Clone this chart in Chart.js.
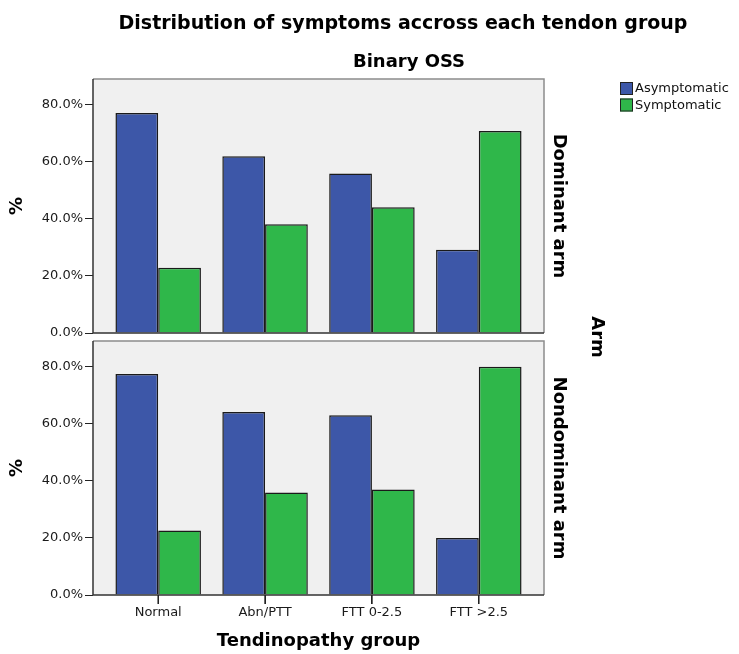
<!DOCTYPE html>
<html>
<head>
<meta charset="utf-8">
<title>Distribution of symptoms</title>
<script src="https://cdn.jsdelivr.net/npm/chart.js@4.4.1/dist/chart.umd.min.js"></script>
<style>
  html, body { margin: 0; padding: 0; background: #fff; }
  #wrap { position: relative; width: 739px; height: 654px; }
  #wrap canvas { position: absolute; left: 0; top: 0; }
</style>
</head>
<body>
<div id="wrap">
  <canvas id="topChart" width="739" height="654"></canvas>
  <canvas id="bottomChart" width="739" height="654"></canvas>
</div>
<script>
// Data (percent)
const categories = ['Normal', 'Abn/PTT', 'FTT 0-2.5', 'FTT >2.5'];
const seriesNames = ['Asymptomatic', 'Symptomatic'];
const dominantAsym = [77.1, 61.9, 55.9, 29.2];
const dominantSym = [22.9, 38.1, 44.1, 70.8];
const nondominantAsym = [77.4, 64.1, 63.0, 20.0];
const nondominantSym = [22.6, 35.9, 37.0, 80.0];
const yTicks = [0, 20, 40, 60, 80];
const yMax = 89;

const mainTitle = 'Distribution of symptoms accross each tendon group';
const subTitle = 'Binary OSS';
const panelTitle = 'Arm';
const colors = ['#3d57a8', '#2fb74a'];

Chart.defaults.font.family = '"DejaVu Sans", sans-serif';
Chart.defaults.color = '#1a1a1a';

const boldTitle = { family: '"DejaVu Sans", sans-serif', size: 18, weight: 'bold' };

// grey panel + frame (+ category tick marks under the bottom panel)
const panelFrame = {
    id: 'panelFrame',
    beforeDraw(chart) {
        const { ctx, chartArea: a } = chart;
        ctx.save();
        ctx.fillStyle = '#f0f0f0';
        ctx.fillRect(a.left, a.top, a.right - a.left, a.bottom - a.top);
        ctx.restore();
    },
    afterDatasetsDraw(chart) {
        const { ctx, chartArea: a } = chart;
        ctx.save();
        ctx.lineWidth = 1.5;
        ctx.strokeStyle = '#8c8c8c';
        ctx.beginPath();
        ctx.moveTo(a.left, a.top);
        ctx.lineTo(a.right, a.top);
        ctx.lineTo(a.right, a.bottom);
        ctx.stroke();
        ctx.strokeStyle = '#333';
        ctx.beginPath();
        ctx.moveTo(a.left, a.top);
        ctx.lineTo(a.left, a.bottom);
        ctx.lineTo(a.right, a.bottom);
        ctx.stroke();

        const xs = chart.scales.x;
        if (xs.options.display) {
            ctx.lineWidth = 1.5;
            ctx.strokeStyle = '#222';
            xs.ticks.forEach((t, i) => {
                const px = xs.getPixelForTick(i);
                ctx.beginPath();
                ctx.moveTo(px, a.bottom);
                ctx.lineTo(px, a.bottom + 9);
                ctx.stroke();
            });
        }
        ctx.restore();
    }
};

// titles, legend and the "Arm" label (drawn on the top chart only)
const extraText = {
    id: 'extraText',
    afterDraw(chart) {
        const ctx = chart.ctx;
        ctx.save();
        ctx.fillStyle = '#000';
        ctx.textAlign = 'center';
        ctx.textBaseline = 'middle';
        ctx.font = 'bold 19px "DejaVu Sans"';
        ctx.fillText(mainTitle, 403, 24);
        ctx.font = 'bold 18px "DejaVu Sans"';
        ctx.fillText(subTitle, 409, 62);

        ctx.save();
        ctx.translate(597, 337);
        ctx.rotate(Math.PI / 2);
        ctx.fillText(panelTitle, 0, 0);
        ctx.restore();

        // legend
        ctx.textAlign = 'left';
        ctx.font = '13px "DejaVu Sans"';
        chart.data.datasets.forEach((ds, i) => {
            const y = 82 + i * 16.5;
            ctx.fillStyle = ds.backgroundColor;
            ctx.fillRect(620, y, 13, 13);
            ctx.strokeStyle = '#222';
            ctx.lineWidth = 1;
            ctx.strokeRect(620.5, y + 0.5, 12, 12);
            ctx.fillStyle = '#111';
            ctx.fillText(ds.label, 635, y + 7);
        });
        ctx.restore();
    }
};

function makeDatasets(asym, sym) {
    return [asym, sym].map((values, s) => ({
        label: seriesNames[s],
        data: categories.map((c, i) => ({ x: i, y: values[i] })),
        backgroundColor: colors[s],
        borderColor: '#1a1a1a',
        borderWidth: 1.5,
        barPercentage: 1.0,
        categoryPercentage: 0.8
    }));
}

function makeOptions(sideLabel, showX, padding) {
    return {
        responsive: false,
        animation: false,
        layout: { padding: padding },
        plugins: {
            legend: { display: false },
            tooltip: { enabled: false }
        },
        scales: {
            x: {
                type: 'linear',
                min: -0.61,
                max: 3.61,
                offset: false,
                display: showX,
                afterBuildTicks: (scale) => {
                    scale.ticks = categories.map((c, i) => ({ value: i }));
                },
                afterFit: (scale) => { if (showX) scale.height = 59; },
                ticks: {
                    autoSkip: false,
                    maxRotation: 0,
                    padding: 1,
                    font: { size: 13 },
                    callback: (v) => categories[v]
                },
                grid: { offset: false, drawOnChartArea: false, tickLength: 9, color: '#222' },
                border: { display: false },
                title: {
                    display: true,
                    text: 'Tendinopathy group',
                    color: '#000',
                    font: boldTitle,
                    padding: { top: 4, bottom: 2 }
                }
            },
            y: {
                min: 0,
                max: yMax,
                afterBuildTicks: (scale) => {
                    scale.ticks = yTicks.map(v => ({ value: v }));
                },
                afterFit: (scale) => { scale.width = 93; },
                ticks: {
                    padding: 2,
                    font: { size: 13 },
                    callback: (v) => v.toFixed(1) + '%'
                },
                grid: { drawOnChartArea: false, tickLength: 8, color: '#222' },
                border: { display: false },
                title: {
                    display: true,
                    text: '%',
                    color: '#000',
                    font: boldTitle,
                    padding: { top: 7, bottom: 4 }
                }
            },
            side: {
                type: 'linear',
                position: 'right',
                afterFit: (scale) => { scale.width = 29; },
                ticks: { display: false },
                grid: { display: false },
                border: { display: false },
                title: {
                    display: true,
                    text: sideLabel,
                    color: '#000',
                    font: boldTitle,
                    padding: { top: 4, bottom: 4 }
                }
            }
        }
    };
}

new Chart(document.getElementById('topChart'), {
    type: 'bar',
    data: { datasets: makeDatasets(dominantAsym, dominantSym) },
    options: makeOptions('Dominant arm', false, { top: 79, left: 0, right: 166, bottom: 321 }),
    plugins: [panelFrame, extraText]
});

new Chart(document.getElementById('bottomChart'), {
    type: 'bar',
    data: { datasets: makeDatasets(nondominantAsym, nondominantSym) },
    options: makeOptions('Nondominant arm', true, { top: 341, left: 0, right: 166, bottom: 0 }),
    plugins: [panelFrame]
});
</script>
</body>
</html>
